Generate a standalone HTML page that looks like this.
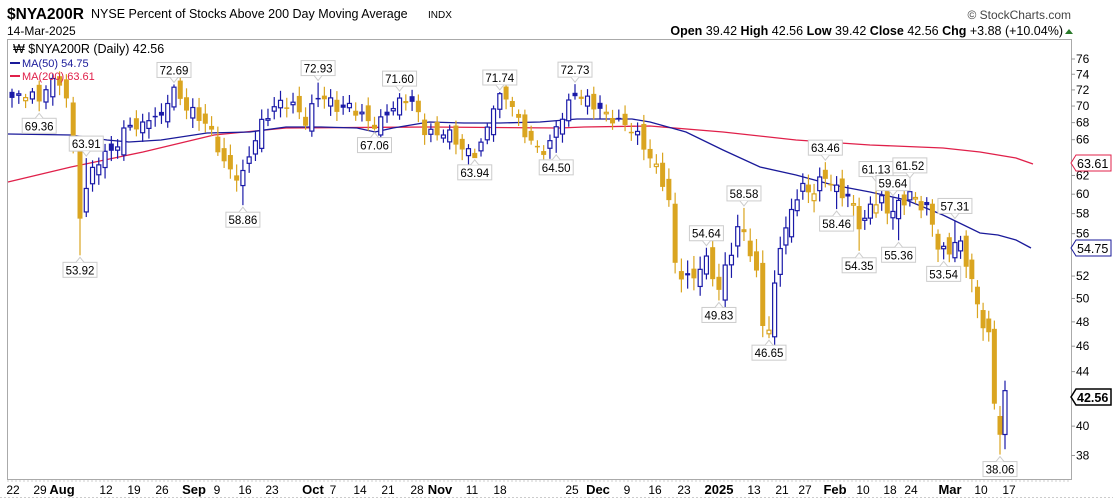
<!DOCTYPE html>
<html><head><meta charset="utf-8"><style>
body{margin:0;background:#fff;width:1113px;height:499px;overflow:hidden;font-family:"Liberation Sans",sans-serif}
svg{position:absolute;left:0;top:0}
</style></head><body>
<svg id="s" width="1113" height="499" xmlns="http://www.w3.org/2000/svg" font-family="Liberation Sans, sans-serif">
<text x="7" y="19" font-size="15.5" font-weight="bold" fill="#000">$NYA200R</text>
<text x="91" y="18" font-size="12.5" fill="#000">NYSE Percent of Stocks Above 200 Day Moving Average</text>
<text x="428" y="18" font-size="10" fill="#000">INDX</text>
<text x="7" y="35" font-size="12" fill="#000">14-Mar-2025</text>
<text x="1071" y="19" font-size="12" fill="#444" text-anchor="end">© StockCharts.com</text>
<text x="1063" y="35" font-size="12.5" fill="#000" text-anchor="end"><tspan font-weight="bold">Open</tspan> 39.42  <tspan font-weight="bold">High</tspan> 42.56  <tspan font-weight="bold">Low</tspan> 39.42  <tspan font-weight="bold">Close</tspan> 42.56  <tspan font-weight="bold">Chg</tspan> +3.88 (+10.04%)</text>
<polygon points="1065,34 1073,34 1069,29" fill="#2a7a2a"/>
<rect x="7.5" y="39.5" width="1064" height="440" fill="none" stroke="#aaa"/>
<g id="g"></g>
<rect x="9" y="42" width="140" height="14" fill="#fff" fill-opacity="0.7"/>
<text x="13" y="53" font-size="12.5" fill="#000">₩ $NYA200R (Daily) 42.56</text>
<line x1="10" y1="63" x2="20" y2="63" stroke="#1a1a9a" stroke-width="2"/>
<text x="22" y="67" font-size="11" fill="#1a1a9a">MA(50) 54.75</text>
<line x1="10" y1="76" x2="20" y2="76" stroke="#e0204a" stroke-width="2"/>
<text x="22" y="80" font-size="11" fill="#e0204a">MA(200) 63.61</text>
<line x1="0" y1="497.5" x2="1113" y2="497.5" stroke="#ccc" stroke-dasharray="2,2"/>
</svg>
<script>
var g=document.getElementById('g'),h='';
function Y(v){return 59+572*Math.log(76/v);}
[76,74,72,70,68,66,62,60,58,56,52,50,48,46,44,40,38].forEach(function(v){var y=Y(v);
h+='<line x1="1071" y1="'+y+'" x2="1075" y2="'+y+'" stroke="#999"/><text x="1076" y="'+(y+4)+'" font-size="12" fill="#000">'+v+'</text>';});
var xl=[[13,'22'],[40,'29'],[62,'Aug',1],[106,'12'],[134,'19'],[162,'26'],[194,'Sep',1],[217,'9'],[245,'16'],[272,'23'],[313,'Oct',1],[333,'7'],[360,'14'],[388,'21'],[417,'28'],[440,'Nov',1],[472,'11'],[500,'18'],[572,'25'],[598,'Dec',1],[627,'9'],[655,'16'],[684,'23'],[719,'2025',1],[754,'13'],[782,'21'],[805,'27'],[835,'Feb',1],[863,'10'],[890,'18'],[911,'24'],[950,'Mar',1],[981,'10'],[1009,'17']];
xl.forEach(function(a){h+='<text x="'+a[0]+'" y="494" font-size="'+(a[2]?13:12)+'" '+(a[2]?'font-weight="bold"':'')+' text-anchor="middle" fill="#000">'+a[1]+'</text>';});
for(var x=8;x<1071;x+=4)h+='<line x1="'+x+'" y1="480" x2="'+x+'" y2="482" stroke="#ccc"/>';
function pl(p,c){var s=p.map(function(q){return q.join(',')}).join(' ');h+='<polyline points="'+s+'" fill="none" stroke="'+c+'" stroke-width="1.3"/>';}
pl([[8,182],[71,167],[143,152],[214,135],[286,128],[429,127],[560,128],[584,127],[650,126],[723,132],[796,140],[870,145],[943,148],[980,152],[1016,158],[1033,164]],'#e0204a');
pl([[8,134],[71,135],[107,140],[129,142],[161,140],[207,133],[250,132],[286,127],[321,127],[357,128],[375,132],[393,128],[429,122],[464,123],[500,123],[540,122],[577,119],[632,119],[650,122],[686,132],[723,150],[760,167],[796,175],[833,185],[870,192],[906,200],[943,215],[980,233],[998,235],[1016,240],[1031,248]],'#1a1a9a');
var K=[[10,71],[18,71],[30,72],[38,70],[45,72.5],[55,73],[65,72.5],[72,66],[80,58],[90,62],[100,64],[110,64.5],[120,66],[130,68],[140,67],[150,69],[160,68],[168,71],[175,72],[185,70],[195,69],[205,68],[215,66],[225,63],[235,62],[243,62],[250,64.5],[258,67],[265,68.5],[275,70],[285,70.5],[295,70],[305,68],[313,70],[320,71.5],[330,70.5],[340,69.5],[350,70],[360,69],[370,68],[378,67.5],[385,69],[395,70],[405,71],[415,70],[425,67],[435,66.5],[445,67],[455,66],[465,64.5],[475,64.5],[485,66],[492,70],[500,71],[510,71],[520,67.5],[530,66],[540,64.5],[550,65.5],[558,68],[568,70],[575,71.5],[590,70.5],[605,69],[620,68],[630,67.5],[640,66],[650,64],[660,62],[668,60],[675,53],[688,51.5],[695,52],[703,53.5],[710,53],[718,50.5],[725,52.5],[733,55],[740,57],[748,55],[755,53],[762,48],[768,47],[775,51],[780,55],[790,57.5],[800,61],[810,60],[818,61],[825,62],[835,60.5],[845,60],[855,58.5],[862,56],[870,59],[880,59.5],[890,58],[900,59],[910,60],[920,59],[930,58],[940,54],[950,54.5],[958,55.5],[968,53],[975,50],[983,48],[988,47],[993,44],[998,42],[1005,42.56]];
function C(x){for(var i=1;i<K.length;i++)if(x<=K[i][0]){var a=K[i-1],b=K[i];return a[1]+(b[1]-a[1])*(x-a[0])/(b[0]-a[0]);}return 42.56;}
var A=[[0,12],[10,80],[89,575],[120,769],[161,1000],[162,1005]];
function X(i){for(var k=1;k<A.length;k++)if(i<=A[k][0]){var a=A[k-1],b=A[k];return a[1]+(b[1]-a[1])*(i-a[0])/(b[0]-a[0]);}}
var LB=[[38,69.36,0],[80,53.92,0],[88,63.91,1],[175,72.69,1],[243,58.86,0],[318,72.93,1],[376,67.06,0],[400,71.60,1],[475,63.94,0],[500,71.74,1],[555,64.50,0],[575,72.73,1],[705,54.64,1],[718,49.83,0],[742,58.58,1],[769,46.65,0],[825,63.46,1],[836,58.46,0],[857,54.35,0],[874,61.13,1],[893,59.64,1],[899,55.36,0],[912,61.52,1],[943,53.54,0],[955,57.31,1],[1000,38.06,0]];
var prev=71;
for(var i=0;i<163;i++){var x=X(i),c=C(x)+Math.sin(i*2.3)*0.6;if(i==162)c=42.56;if(i==161)c=39.4;if(i==160)c=41.6;
var o=prev+Math.sin(i*1.7+1)*0.9;if(i==162)o=39.42;
var hi=Math.max(o,c)+0.4+Math.abs(Math.sin(i*3.1))*0.8,lo=Math.min(o,c)-0.4-Math.abs(Math.cos(i*2.7))*0.8;
LB.forEach(function(l){if(Math.abs(l[0]-x)<3.1){if(l[2])hi=l[1];else lo=l[1];l.push(x);}});
var col=c>=prev?'#1a1aa8':'#daa520',fill=c<o;
var yt=Y(Math.max(o,c)),yb=Y(Math.min(o,c));if(yb-yt<1.5)yb=yt+1.5;
h+='<line x1="'+x+'" y1="'+Y(hi)+'" x2="'+x+'" y2="'+Y(lo)+'" stroke="'+col+'" stroke-width="1.2"/>';
if(fill)h+='<rect x="'+(x-2.5)+'" y="'+yt+'" width="5" height="'+(yb-yt)+'" fill="'+col+'"/>';
else h+='<rect x="'+(x-2)+'" y="'+yt+'" width="4" height="'+(yb-yt)+'" fill="#fff" stroke="'+col+'" stroke-width="1.2"/>';
prev=c;}
LB.forEach(function(l){var x=l[3]||l[0],t=l[1].toFixed(2),y=Y(l[1]),w=34,bx=x-17,by;
if(l[2]){by=y-22;h+='<rect x="'+bx+'" y="'+by+'" width="'+w+'" height="15" fill="#fff" stroke="#ccc"/><polyline points="'+(x-4)+','+(by+15)+' '+x+','+(y-2)+' '+(x+4)+','+(by+15)+'" fill="#fff" stroke="#ccc"/><text x="'+x+'" y="'+(by+12)+'" font-size="11.5" text-anchor="middle" fill="#000">'+t+'</text>';}
else{by=y+7;h+='<rect x="'+bx+'" y="'+by+'" width="'+w+'" height="15" fill="#fff" stroke="#ccc"/><polyline points="'+(x-4)+','+by+' '+x+','+(y+2)+' '+(x+4)+','+by+'" fill="#fff" stroke="#ccc"/><text x="'+x+'" y="'+(by+12)+'" font-size="11.5" text-anchor="middle" fill="#000">'+t+'</text>';}});
function tag(y,t,c,bw){h+='<polygon points="1071,'+y+' 1076,'+(y-8)+' 1111,'+(y-8)+' 1111,'+(y+8)+' 1076,'+(y+8)+'" fill="#fff" stroke="'+c+'" stroke-width="'+bw+'"/><text x="1077" y="'+(y+5)+'" font-size="12.5" fill="#000" font-weight="'+(bw>1?'bold':'normal')+'">'+t+'</text>';}
tag(163,'63.61','#e0204a',1);tag(248,'54.75','#1a1a9a',1);tag(397,'42.56','#000',1.5);
g.innerHTML=h;
</script>
</body></html>
